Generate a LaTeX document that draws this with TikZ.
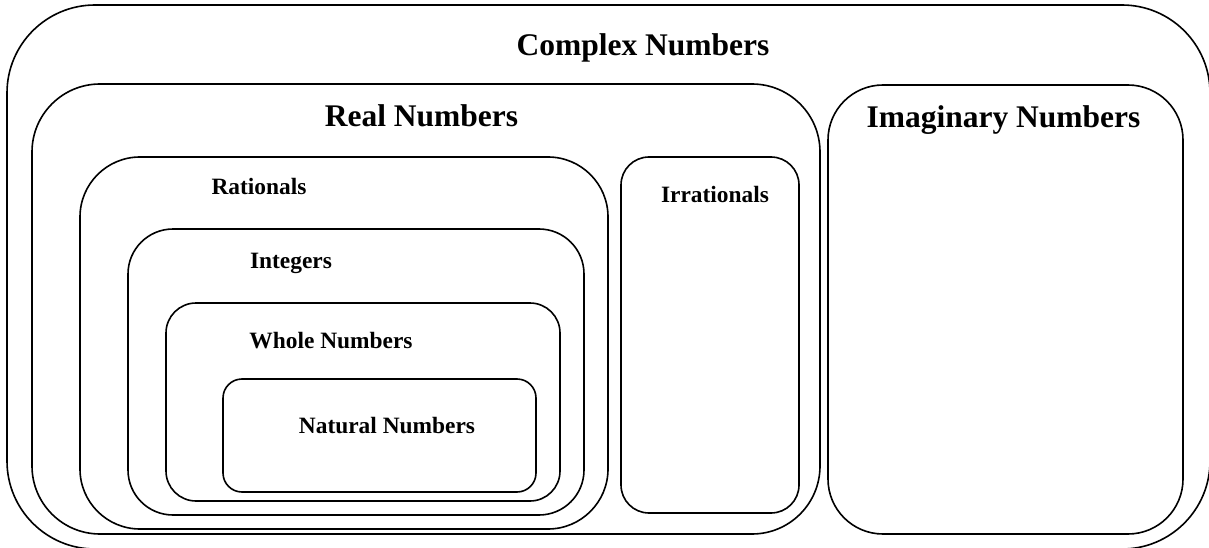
\documentclass[tikz,border=0pt]{standalone}
\usepackage{fontspec}
\setmainfont{Liberation Serif}
\usepackage{tikz}
\usetikzlibrary{positioning}

\begin{document}
\begin{tikzpicture}[x=1pt, y=-1pt,
    numset/.style={rectangle, draw=black, line width=1.6pt, inner sep=0pt, outer sep=0pt},
    bigname/.style={anchor=base, inner sep=0pt, font=\fontsize{31.5}{36}\selectfont\bfseries},
    smallname/.style={anchor=base, inner sep=0pt, font=\fontsize{23.4}{28}\selectfont\bfseries}]
    \clip (0,0) rectangle (1209,548);
    \fill[white] (0,0) rectangle (1209,548);

    % nested sets
    \node[numset, rounded corners=88pt, minimum width=1203pt, minimum height=544pt] (complex) at (608.5,277) {};
    \node[numset, rounded corners=68pt, minimum width=788pt, minimum height=450pt] (real) at (426,309) {};
    \node[numset, rounded corners=55pt, minimum width=355pt, minimum height=449pt] (imag) at (1005.5,309.5) {};
    \node[numset, rounded corners=60pt, minimum width=528pt, minimum height=372pt] (rational) at (344,343) {};
    \node[numset, rounded corners=28pt, minimum width=178pt, minimum height=356pt] (irrational) at (710,335) {};
    \node[numset, rounded corners=45pt, minimum width=456pt, minimum height=286pt] (integer) at (356,372) {};
    \node[numset, rounded corners=30pt, minimum width=394pt, minimum height=198pt] (whole) at (363,402) {};
    \node[numset, rounded corners=19pt, minimum width=313pt, minimum height=113pt] (natural) at (379.5,435.5) {};

    % names
    \node[bigname] (complexname) at (643,56) {Complex Numbers};
    \node[bigname] (realname) at (421.5,127) {Real Numbers};
    \node[bigname] (imagname) at (1003.5,128) {Imaginary Numbers};
    \node[smallname] (rationalname) at (259,194) {Rationals};
    \node[smallname] (irrationalname) at (715,202) {Irrationals};
    \node[smallname] (integername) at (291,268) {Integers};
    \node[smallname] (wholename) at (331,348) {Whole Numbers};
    \node[smallname] (naturalname) at (387,433) {Natural Numbers};
\end{tikzpicture}
\end{document}
